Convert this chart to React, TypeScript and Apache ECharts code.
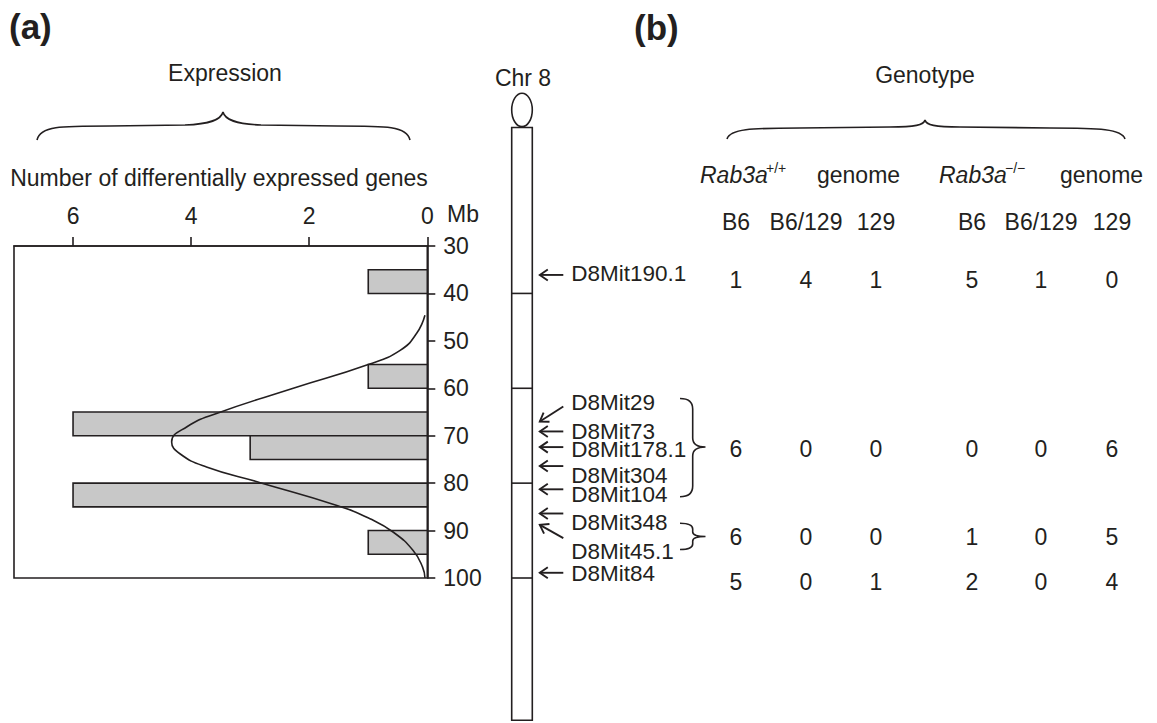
import React, { useEffect, useRef } from "react";
import * as echarts from "echarts";

const FONT = '"Liberation Sans", Arial, Helvetica, sans-serif';
const INK = "#231f20";
const FS = 23;
const FS_MARKER = 22.5;

// ---------- (a) expression histogram ----------
const binStartMb = [35, 55, 65, 70, 80, 90];
const binEndMb = [40, 60, 70, 75, 85, 95];
const geneCounts = [1, 1, 6, 3, 6, 1];
const countTicks = [0, 2, 4, 6];
const curveMb = [44.6, 48.4, 52.0, 55.0, 60.0, 65.3, 68.1, 71.3, 73.8, 76.6, 79.9, 84.7, 87.5, 90.3, 94.2, 97.7, 100];
const curveCount = [0.04, 0.18, 0.46, 1.0, 2.27, 3.57, 4.07, 4.33, 4.19, 3.74, 2.83, 1.53, 0.97, 0.58, 0.24, 0.08, 0.04];

// ---------- chromosome 8 ----------
const chrStartMb = 5;
const chrEndMb = 130;
const chrBandMb = [40, 60, 80, 100];
const markerNames = [
  "D8Mit190.1",
  "D8Mit29",
  "D8Mit73",
  "D8Mit178.1",
  "D8Mit304",
  "D8Mit104",
  "D8Mit348",
  "D8Mit45.1",
  "D8Mit84",
];
const markerMb = [36.1, 67.0, 69.1, 72.4, 76.4, 81.3, 86.4, 88.8, 98.9];

// ---------- (b) genotype table ----------
const genotypeCols = ["B6", "B6/129", "129", "B6", "B6/129", "129"];
const genotypeRow1 = [1, 4, 1, 5, 1, 0];
const genotypeRow2 = [6, 0, 0, 0, 0, 6];
const genotypeRow3 = [6, 0, 0, 1, 0, 5];
const genotypeRow4 = [5, 0, 1, 2, 0, 4];
const genotypeRows = [genotypeRow1, genotypeRow2, genotypeRow3, genotypeRow4];

// ---------- layout (pixels) ----------
const markerTailDy = [0, -15, 0, 0, 0, 0, 0, 13.3, 0];
const markerLabelDy = [-1, -18.7, 0, 2, 9, 5.5, 9.4, 26.7, 1];
const tableColX = [736, 806, 876, 972, 1041, 1112];
const tableRowY = [280, 449, 537, 582];

const braceExpr =
  "M37,140 C40,126 60,126 110,126 L185,125 C210,124 221,120 223,112 C225,120 236,124 261,125 L337,126 C387,126 407,126 410,140";
const braceGeno =
  "M727,139 C730,129 750,128 800,128 L890,127 C915,127 924,125 925,120 C926,125 935,127 960,127 L1050,128 C1100,128 1122,129 1125,139";
const braceGroup1 =
  "M680,398.5 Q692.7,398.5 692.7,409 L692.7,438 Q692.7,447 705.5,447 Q692.7,447 692.7,456 L692.7,486 Q692.7,496.7 680,496.7";
const braceGroup2 =
  "M680,523.3 Q692.7,523.3 692.7,529 L692.7,532 Q692.7,536.5 705.5,536.5 Q692.7,536.5 692.7,541 L692.7,544 Q692.7,549.5 680,549.5";

echarts.graphic.registerShape("braceExpr", echarts.graphic.extendPath(braceExpr, {}) as any);
echarts.graphic.registerShape("braceGeno", echarts.graphic.extendPath(braceGeno, {}) as any);
echarts.graphic.registerShape("braceGroup1", echarts.graphic.extendPath(braceGroup1, {}) as any);
echarts.graphic.registerShape("braceGroup2", echarts.graphic.extendPath(braceGroup2, {}) as any);

function txt(text: string, x: number, y: number, opts: any = {}) {
  const align = opts.align || "center";
  return {
    type: "text",
    x,
    y,
    silent: true,
    style: {
      text,
      fill: INK,
      fontSize: opts.fontSize || FS,
      fontFamily: FONT,
      fontWeight: opts.fontWeight || "normal",
      fontStyle: opts.fontStyle || "normal",
      align,
      textAlign: align,
      verticalAlign: "middle",
      textVerticalAlign: "middle",
    },
  };
}

function braceEl(type: string) {
  return {
    type,
    x: 0,
    y: 0,
    silent: true,
    style: { stroke: INK, fill: "none", lineWidth: 1.6 },
  };
}

export default function App() {
  const ref = useRef<HTMLDivElement>(null);

  useEffect(() => {
    if (!ref.current) return;
    const chart = echarts.init(ref.current, undefined, { renderer: "svg" });

    const graphicEls: any[] = [
      txt("(a)", 9, 26, { align: "left", fontSize: 35, fontWeight: "bold" }),
      txt("(b)", 634, 27, { align: "left", fontSize: 35, fontWeight: "bold" }),
      txt("Expression", 225, 73),
      braceEl("braceExpr"),
      txt("Number of differentially expressed genes", 219, 178),
      txt("Mb", 447, 214, { align: "left" }),
      txt("Chr 8", 523, 78),
      txt("Genotype", 925, 75),
      braceEl("braceGeno"),
      braceEl("braceGroup1"),
      braceEl("braceGroup2"),
      txt("Rab3a", 700, 175, { align: "left", fontStyle: "italic" }),
      txt("+/+", 766, 168, { align: "left", fontSize: 14 }),
      txt("genome", 817, 175, { align: "left" }),
      txt("Rab3a", 939, 175, { align: "left", fontStyle: "italic" }),
      txt("\u2212/\u2212", 1005, 168, { align: "left", fontSize: 14 }),
      txt("genome", 1060, 175, { align: "left" }),
    ];
    genotypeCols.forEach((c, i) => graphicEls.push(txt(c, tableColX[i], 222)));
    genotypeRows.forEach((row, r) =>
      row.forEach((v, i) => graphicEls.push(txt(String(v), tableColX[i], tableRowY[r])))
    );

    const option: any = {
      animation: false,
      backgroundColor: "#ffffff",
      grid: [
        {
          left: 14,
          top: 246,
          width: 413.3,
          height: 332,
          show: true,
          borderColor: INK,
          borderWidth: 1.6,
          backgroundColor: "transparent",
        },
        { left: 511.7, top: 246, width: 20.6, height: 332, show: false },
      ],
      xAxis: [
        {
          gridIndex: 0,
          type: "value",
          position: "top",
          inverse: true,
          min: 0,
          max: 7,
          interval: 2,
          axisLine: { show: true, lineStyle: { color: INK, width: 1.6 } },
          axisTick: {
            show: true,
            length: 9,
            inside: false,
            customValues: countTicks,
            lineStyle: { color: INK, width: 1.6 },
          },
          axisLabel: {
            show: true,
            customValues: countTicks,
            margin: 19,
            color: INK,
            fontSize: FS,
            fontFamily: FONT,
          },
          splitLine: { show: false },
        },
        { gridIndex: 1, type: "value", min: 0, max: 1, show: false },
      ],
      yAxis: [
        {
          gridIndex: 0,
          type: "value",
          position: "right",
          inverse: true,
          min: 30,
          max: 100,
          interval: 10,
          axisLine: { show: true, lineStyle: { color: INK, width: 1.6 } },
          axisTick: { show: true, length: 8, inside: false, lineStyle: { color: INK, width: 1.6 } },
          axisLabel: { show: true, margin: 16, color: INK, fontSize: FS, fontFamily: FONT },
          splitLine: { show: false },
        },
        { gridIndex: 1, type: "value", inverse: true, min: 30, max: 100, show: false },
      ],
      series: [
        {
          type: "custom",
          name: "genes",
          xAxisIndex: 0,
          yAxisIndex: 0,
          data: geneCounts.map((v, i) => [v, binStartMb[i], binEndMb[i]]),
          renderItem: (params: any, api: any) => {
            const v = api.value(0);
            const s = api.value(1);
            const e = api.value(2);
            const p1 = api.coord([v, s]);
            const p2 = api.coord([0, e]);
            return {
              type: "rect",
              shape: {
                x: Math.min(p1[0], p2[0]),
                y: Math.min(p1[1], p2[1]),
                width: Math.abs(p2[0] - p1[0]),
                height: Math.abs(p2[1] - p1[1]),
              },
              style: { fill: "#c8c8c8", stroke: INK, lineWidth: 1.6 },
            };
          },
          z: 2,
        },
        {
          type: "line",
          name: "curve",
          xAxisIndex: 0,
          yAxisIndex: 0,
          data: curveCount.map((v, i) => [v, curveMb[i]]),
          smooth: 0.5,
          showSymbol: false,
          symbol: "none",
          lineStyle: { color: INK, width: 1.6 },
          z: 3,
        },
        {
          type: "custom",
          name: "chromosome",
          xAxisIndex: 1,
          yAxisIndex: 1,
          data: [[0, chrStartMb, chrEndMb]],
          renderItem: (params: any, api: any) => {
            const top = api.coord([0, api.value(1)]);
            const bot = api.coord([1, api.value(2)]);
            const x0 = top[0];
            const x1 = bot[0];
            const children: any[] = [
              {
                type: "rect",
                shape: { x: x0, y: top[1], width: x1 - x0, height: bot[1] - top[1] },
                style: { fill: "#ffffff", stroke: INK, lineWidth: 1.6 },
              },
              {
                type: "ellipse",
                shape: { cx: (x0 + x1) / 2, cy: top[1] - 17.5, rx: (x1 - x0) / 2, ry: 16.7 },
                style: { fill: "#ffffff", stroke: INK, lineWidth: 1.6 },
              },
            ];
            chrBandMb.forEach((mb) => {
              const p = api.coord([0, mb]);
              children.push({
                type: "line",
                shape: { x1: x0, y1: p[1], x2: x1, y2: p[1] },
                style: { stroke: INK, lineWidth: 1.6 },
              });
            });
            return { type: "group", children };
          },
          z: 2,
        },
        {
          type: "custom",
          name: "markers",
          xAxisIndex: 1,
          yAxisIndex: 1,
          data: markerMb.map((m) => [1, m]),
          renderItem: (params: any, api: any) => {
            const i = params.dataIndex;
            const p = api.coord([1, api.value(1)]);
            const tipX = p[0] + 7.5;
            const tipY = p[1];
            const tailX = p[0] + 31;
            const tailY = tipY + markerTailDy[i];
            const dx = tipX - tailX;
            const dy = tipY - tailY;
            const len = Math.sqrt(dx * dx + dy * dy);
            const ux = dx / len;
            const uy = dy / len;
            const nx = -uy;
            const ny = ux;
            const hl = 8;
            const hw = 5.5;
            const bx = tipX - ux * hl;
            const by = tipY - uy * hl;
            return {
              type: "group",
              children: [
                {
                  type: "line",
                  shape: { x1: tailX, y1: tailY, x2: tipX, y2: tipY },
                  style: { stroke: INK, lineWidth: 1.9 },
                },
                {
                  type: "polyline",
                  shape: {
                    points: [
                      [bx + nx * hw, by + ny * hw],
                      [tipX, tipY],
                      [bx - nx * hw, by - ny * hw],
                    ],
                  },
                  style: { stroke: INK, lineWidth: 1.9, fill: "none" },
                },
                {
                  type: "text",
                  x: p[0] + 39,
                  y: tipY + markerLabelDy[i],
                  style: {
                    text: markerNames[i],
                    fill: INK,
                    fontSize: FS_MARKER,
                    fontFamily: FONT,
                    align: "left",
                    textAlign: "left",
                    verticalAlign: "middle",
                    textVerticalAlign: "middle",
                  },
                },
              ],
            };
          },
          z: 2,
        },
      ],
      graphic: { elements: graphicEls },
    };

    chart.setOption(option);
    return () => chart.dispose();
  }, []);

  return (
    <div
      ref={ref}
      style={{ position: "fixed", left: 0, top: 0, width: 1157, height: 723, background: "#fff" }}
    />
  );
}
